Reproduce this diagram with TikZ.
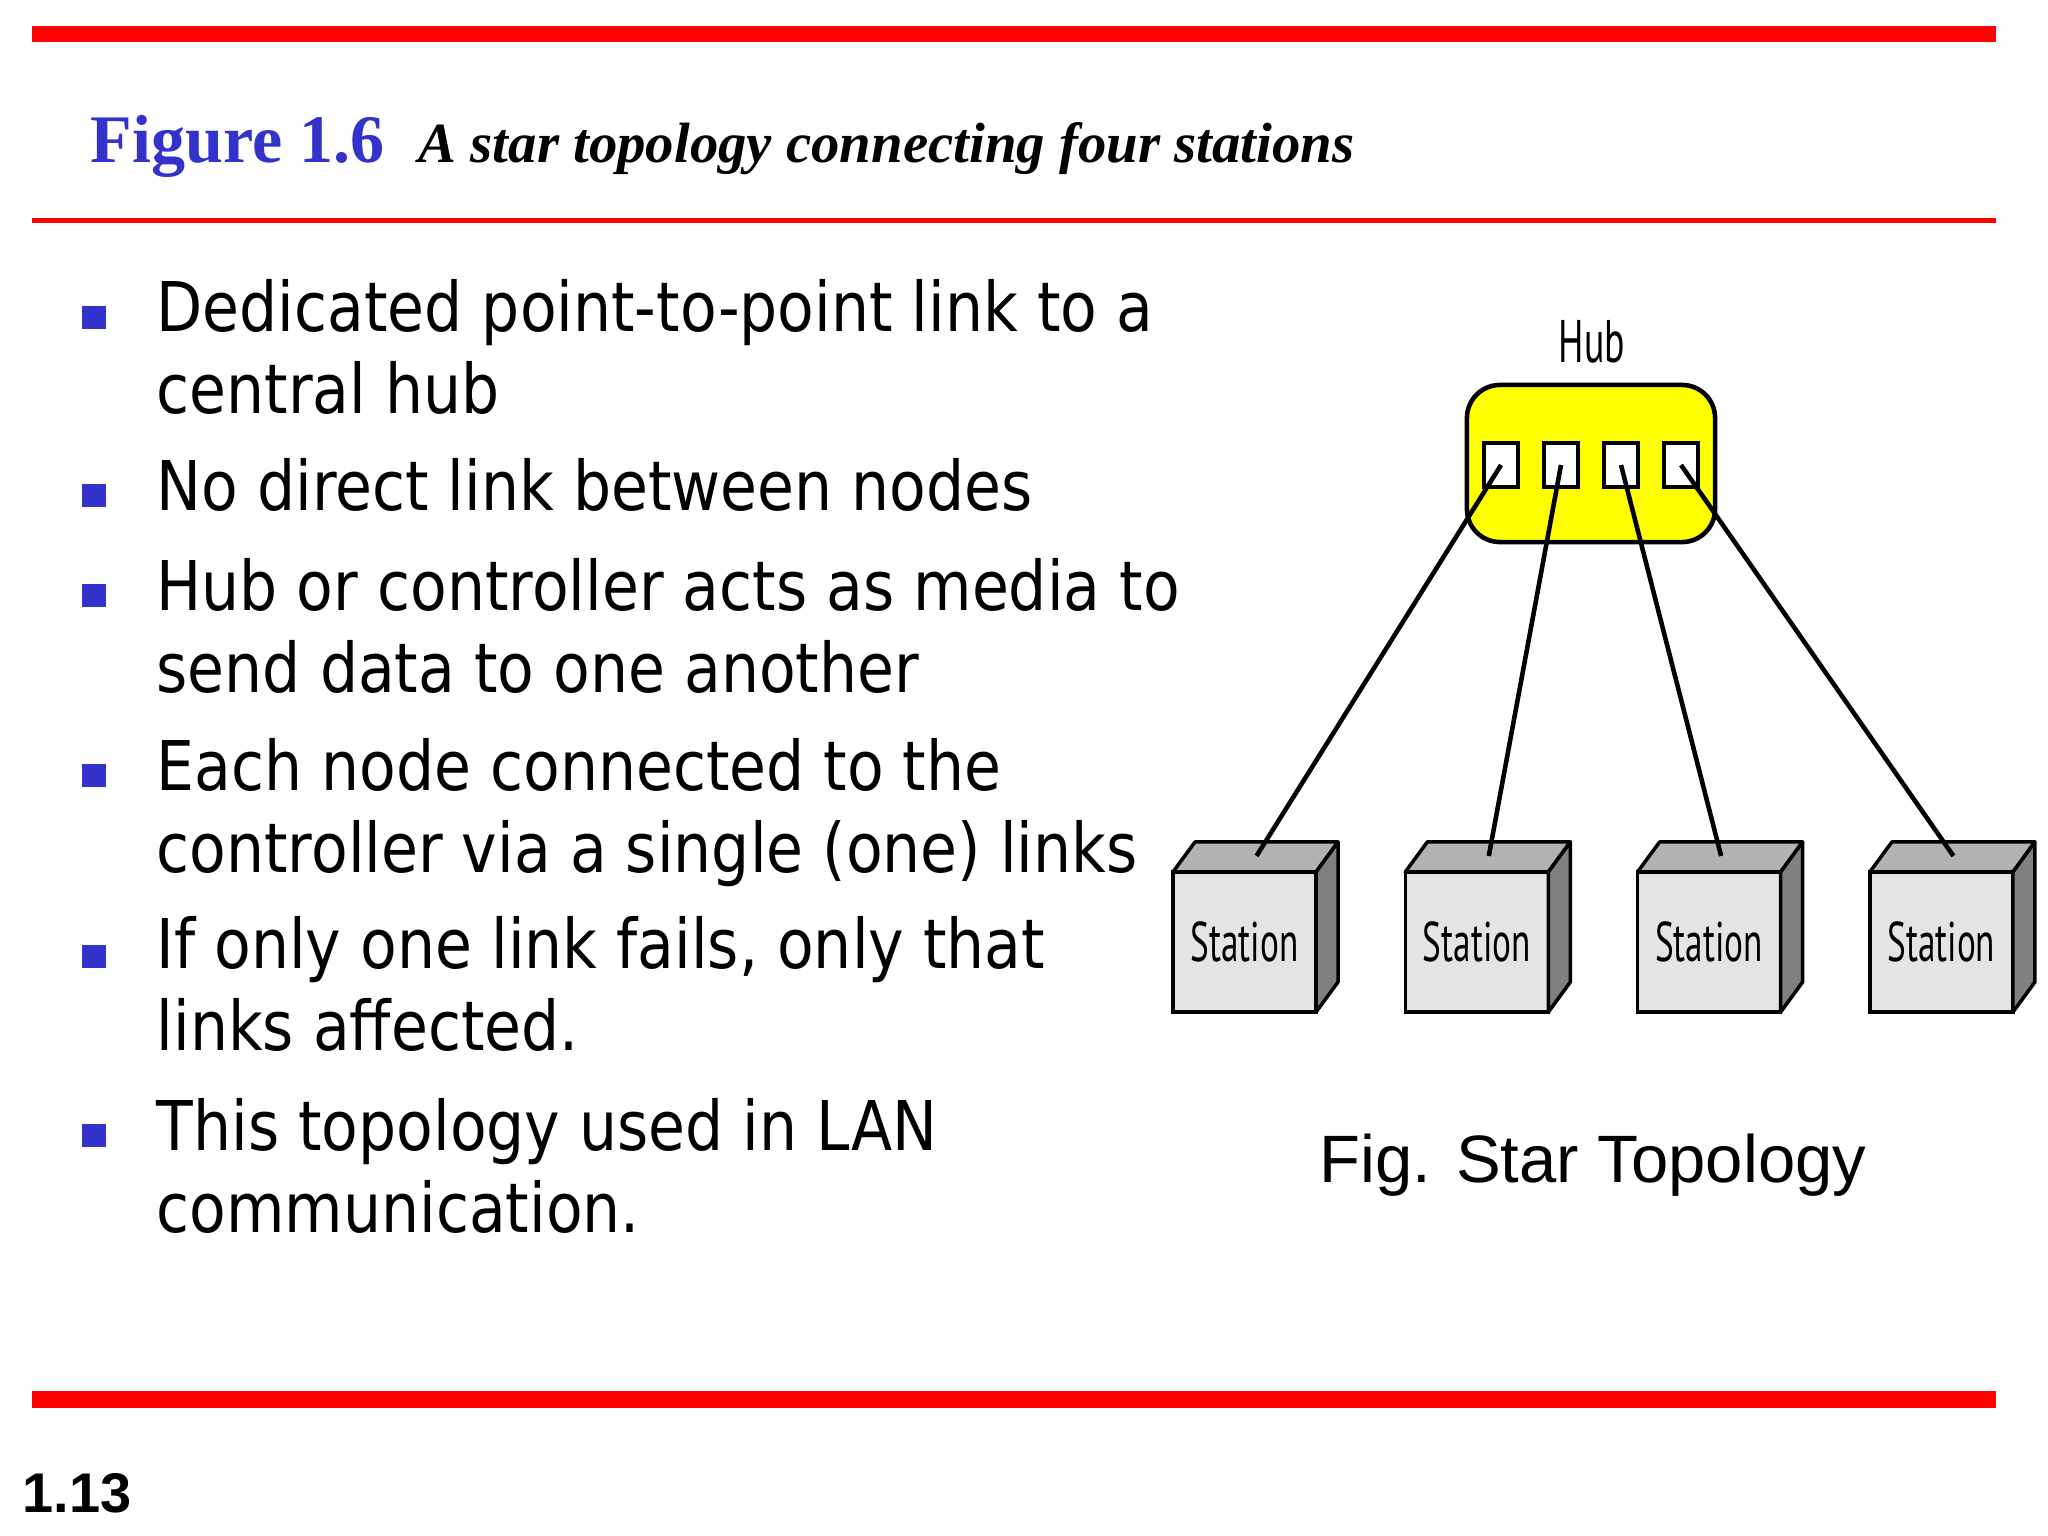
\documentclass[tikz,border=0pt]{standalone}
\usepackage{fontspec}
\usetikzlibrary{calc}
\setmainfont{DejaVu Sans}
\newfontfamily\bodyfont[FakeStretch=0.875]{DejaVu Sans}
\newfontfamily\labfont[FakeStretch=0.63]{PT Sans}
\newfontfamily\serifface{Liberation Serif}
\newfontfamily\arialface{Liberation Sans}
\definecolor{slideblue}{RGB}{51,51,204}
\definecolor{slidered}{RGB}{255,0,0}
\definecolor{hubyellow}{RGB}{255,255,0}
\definecolor{frontgray}{RGB}{228,228,230}
\definecolor{topgray}{RGB}{178,178,180}
\definecolor{sidegray}{RGB}{128,128,130}
\tikzset{
  bodytext/.style={anchor=base west, inner sep=0pt, align=left,
    font=\bodyfont\fontsize{19.5pt}{23.05pt}\selectfont},
  bulletbox/.style={fill=slideblue, minimum width=0.23cm, minimum height=0.23cm, inner sep=0pt, outer sep=0pt},
  hubbox/.style={draw=black, line width=1.3pt, fill=hubyellow, rounded corners=0.33cm,
    minimum width=2.48cm, minimum height=1.57cm, inner sep=0pt, outer sep=0pt},
  portbox/.style={draw=black, line width=1.0pt, fill=white, minimum width=0.34cm,
    minimum height=0.44cm, inner sep=0pt, outer sep=0pt},
  stationbox/.style={draw=black, line width=1.0pt, fill=frontgray, minimum width=1.43cm,
    minimum height=1.40cm, inner sep=0pt, outer sep=0pt,
    font=\labfont\fontsize{15.9pt}{17pt}\selectfont},
  topface/.style={draw=black, line width=1.0pt, fill=topgray, line join=round},
  sideface/.style={draw=black, line width=1.0pt, fill=sidegray, line join=round},
  link/.style={draw=black, line width=1.3pt},
}
\begin{document}
\begin{tikzpicture}[x=0.01cm,y=-0.01cm]
\useasboundingbox (0,0) rectangle (2048,1536);
\fill[white] (0,0) rectangle (2048,1536);

% red rules
\fill[slidered] (32,26) rectangle (1996,42);
\fill[slidered] (32,218) rectangle (1996,223);
\fill[slidered] (32,1391) rectangle (1996,1408);

% title
\node[anchor=base west, inner sep=0pt, text=slideblue,
  font=\serifface\bfseries\fontsize{19.35pt}{21pt}\selectfont] (figno) at (90,162) {Figure 1.6};
\node[anchor=base west, inner sep=0pt,
  font=\serifface\bfseries\itshape\fontsize{16.15pt}{18pt}\selectfont] (figtitle) at (418,162) {A star topology connecting four stations};

% bullets (multi-line nodes are anchored at the baseline of their last line)
\node[bulletbox] (b1) at (94,317) {};
\node[bodytext] (t1) at (156,413) {Dedicated point-to-point link to a\\central hub};
\node[bulletbox] (b2) at (94,495) {};
\node[bodytext] (t2) at (156,510) {No direct link between nodes};
\node[bulletbox] (b3) at (94,595) {};
\node[bodytext] (t3) at (156,692) {Hub or controller acts as media to\\send data to one another};
\node[bulletbox] (b4) at (94,775) {};
\node[bodytext] (t4) at (156,872) {Each node connected to the\\controller via a single (one) links};
\node[bulletbox] (b5) at (94,956) {};
\node[bodytext] (t5) at (156,1050) {If only one link fails, only that\\links affected.};
\node[bulletbox] (b6) at (94,1135) {};
\node[bodytext] (t6) at (156,1232) {This topology used in LAN\\communication.};

% hub
\node[anchor=base, inner sep=0pt, font=\labfont\fontsize{17.1pt}{18pt}\selectfont] (hublabel) at (1592,362) {Hub};
\node[hubbox] (hub) at (1591,463.5) {};
\node[portbox] (p1) at (1501,465) {};
\node[portbox] (p2) at (1561,465) {};
\node[portbox] (p3) at (1621,465) {};
\node[portbox] (p4) at (1681,465) {};

% stations
\foreach \i/\x in {1/1244.5, 2/1476.8, 3/1709.1, 4/1941.4} {
  \node[stationbox] (s\i) at (\x,942) {Station};
  \draw[topface] (s\i.north west) -- ++(22,-30) -- ++(143,0) -- (s\i.north east) -- cycle;
  \draw[sideface] (s\i.north east) -- ++(22,-30) -- ++(0,140) -- (s\i.south east) -- cycle;
  \coordinate (c\i) at ($(s\i.north)+(12,-16)$);
}

% links
\foreach \i in {1,...,4} {
  \draw[link] (p\i.center) -- (c\i);
}

% caption and page number
\node[anchor=base west, inner sep=0pt, font=\arialface\fontsize{19.06pt}{21pt}\selectfont] (figcap) at (1319,1182) {Fig. Star Topology};
\node[anchor=base west, inner sep=0pt, font=\arialface\bfseries\fontsize{15.9pt}{17pt}\selectfont] (pageno) at (22,1512) {1.13};
\end{tikzpicture}
\end{document}
